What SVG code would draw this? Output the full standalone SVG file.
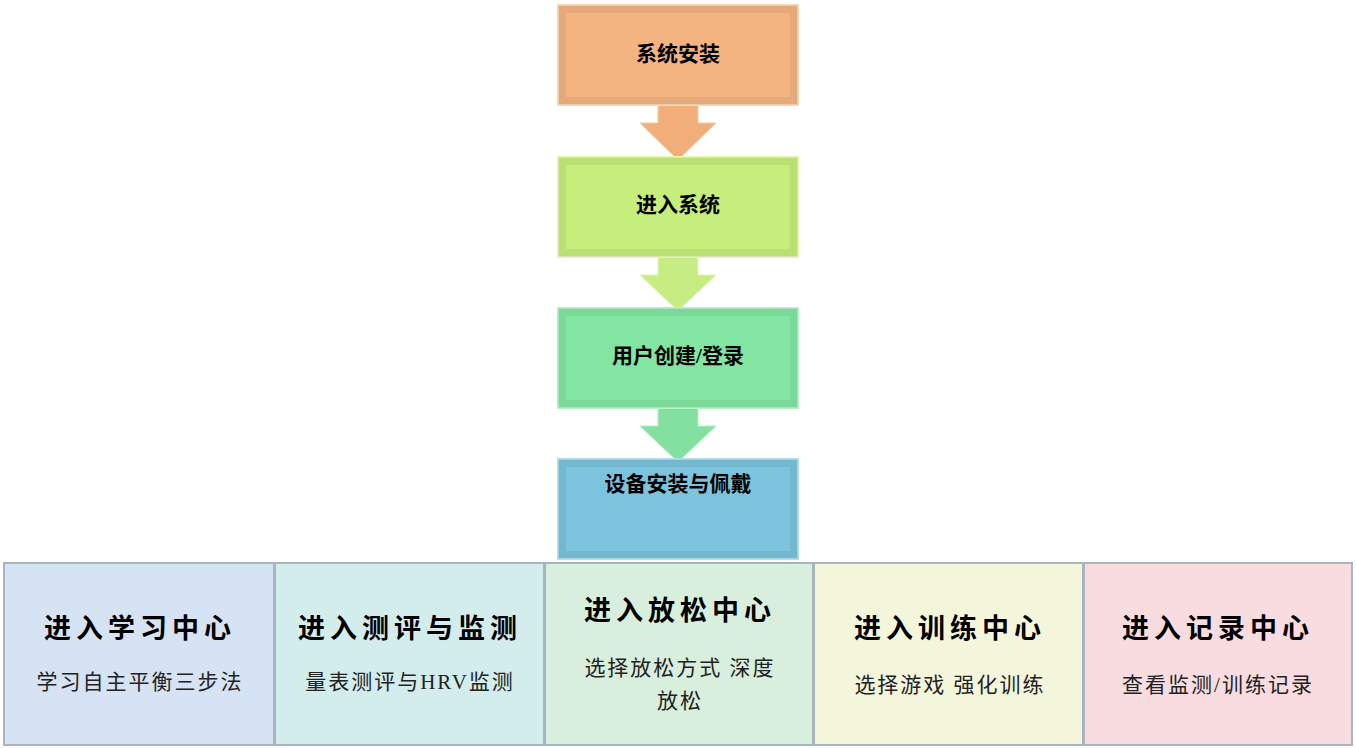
<svg xmlns="http://www.w3.org/2000/svg" width="1356" height="748" viewBox="0 0 1356 748">
<style>
.t{font-family:"Liberation Serif","Noto Sans CJK SC",serif;font-weight:bold;font-size:21px;fill:#000;text-anchor:middle}
.h{font-family:"Liberation Serif","Noto Sans CJK SC",serif;font-weight:bold;font-size:27px;letter-spacing:5px;fill:#000;text-anchor:middle}
.s{font-family:"Liberation Serif","Noto Sans CJK SC",serif;font-size:21px;letter-spacing:2px;fill:#222;text-anchor:middle}
.b{stroke:#a8b4c0;stroke-width:2}
.bev{fill:none;stroke:#000;stroke-opacity:.06;stroke-width:8}
</style>
<g id="connectors">
<path d="M658,92 H698 V123 H716 L678,160 L640,123 H658 Z" fill="#f2ae78" stroke="#f6c8a0"/>
<path d="M658,244 H698 V275 H716 L678,311 L640,275 H658 Z" fill="#c8ec84" stroke="#e0f8b0"/>
<path d="M658,395 H698 V426 H716 L678,462 L640,426 H658 Z" fill="#82e0a0" stroke="#b0f0c4"/>
</g>
<g id="n1"><rect x="558" y="5" width="240" height="100" fill="#f4b482" stroke="#fbd8b8" stroke-width="2"/><rect x="562" y="9" width="232" height="92" class="bev"/><text x="678" y="61" class="t">系统安装</text></g>
<g id="n2"><rect x="558" y="157" width="240" height="100" fill="#c6ee7c" stroke="#e4f8b4" stroke-width="2"/><rect x="562" y="161" width="232" height="92" class="bev"/><text x="678" y="212" class="t">进入系统</text></g>
<g id="n3"><rect x="558" y="308" width="240" height="100" fill="#82e6a2" stroke="#b8f2c8" stroke-width="2"/><rect x="562" y="312" width="232" height="92" class="bev"/><text x="678" y="363" class="t">用户创建/登录</text></g>
<g id="n4"><rect x="558" y="459" width="240" height="100" fill="#7cc4de" stroke="#aee0f0" stroke-width="2"/><rect x="562" y="463" width="232" height="92" class="bev"/><text x="678" y="491" class="t">设备安装与佩戴</text></g>
<g id="c1"><rect x="4" y="563" width="270" height="182" fill="#d5e3f4" class="b"/><text x="140" y="638" class="h">进入学习中心</text><text x="140" y="689" class="s">学习自主平衡三步法</text></g>
<g id="c2"><rect x="275" y="563" width="269" height="182" fill="#d3ecec" class="b"/><text x="410" y="638" class="h">进入测评与监测</text><text x="410" y="689" class="s">量表测评与HRV监测</text></g>
<g id="c3"><rect x="545" y="563" width="268" height="182" fill="#d7efdc" class="b"/><text x="680" y="620" class="h">进入放松中心</text><text x="680" y="675" class="s">选择放松方式 深度</text><text x="680" y="708" class="s">放松</text></g>
<g id="c4"><rect x="814" y="563" width="269" height="182" fill="#f4f6dc" class="b"/><text x="950" y="638" class="h">进入训练中心</text><text x="950" y="692" class="s">选择游戏 强化训练</text></g>
<g id="c5"><rect x="1084" y="563" width="268" height="182" fill="#f8dce0" class="b"/><text x="1218" y="638" class="h">进入记录中心</text><text x="1218" y="692" class="s">查看监测/训练记录</text></g>
</svg>
